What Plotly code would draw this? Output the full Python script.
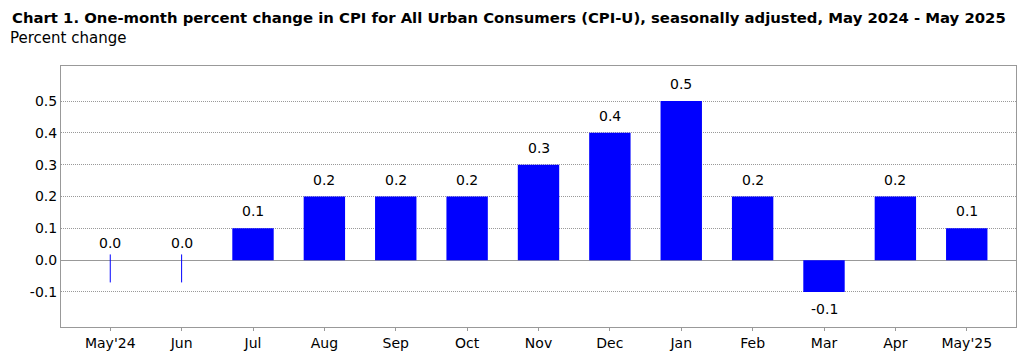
import plotly.graph_objects as go

months = ["May'24", "Jun", "Jul", "Aug", "Sep", "Oct", "Nov", "Dec", "Jan", "Feb", "Mar", "Apr", "May'25"]
values = [0.0, 0.0, 0.1, 0.2, 0.2, 0.2, 0.3, 0.4, 0.5, 0.2, -0.1, 0.2, 0.1]
y_ticks = [-0.1, 0.0, 0.1, 0.2, 0.3, 0.4, 0.5]

title = "Chart 1. One-month percent change in CPI for All Urban Consumers (CPI-U), seasonally adjusted, May 2024 - May 2025"
subtitle = "Percent change"

FONT = "DejaVu Sans"
W, H = 1009, 344
ML, MR, MT, MB = 53, 1, 58, 25

fig = go.Figure()
fig.add_trace(go.Bar(
    x=months, y=values, marker=dict(color="#0000FF", line=dict(width=0)),
    width=0.58, hoverinfo="x+y",
))
# thin marks for zero-valued months
zero_x = [m for m, v in zip(months, values) if v == 0]
fig.add_trace(go.Scatter(
    x=zero_x, y=[-0.026] * len(zero_x), mode="markers",
    marker=dict(symbol="line-ns", size=20, line=dict(color="#0000FF", width=1)),
    hoverinfo="skip", showlegend=False,
))

annotations = []
for m, v in zip(months, values):
    annotations.append(dict(
        x=m, y=v, xref="x", yref="y", text=f"{v:.1f}", showarrow=False,
        yshift=17 if v >= 0 else -17, xanchor="center", yanchor="middle",
        font=dict(family=FONT, size=14, color="#000000"),
    ))

plot_h = H - MT - MB
plot_w = W - ML - MR
def px(xp, yp):
    return (xp - ML) / plot_w, (H - MB - yp) / plot_h

sx, sy = px(0, 30)
annotations.append(dict(text=subtitle, x=sx, y=sy, xref="paper", yref="paper",
                        xanchor="left", yanchor="middle", showarrow=False,
                        font=dict(family=FONT, size=15, color="#000000")))

fig.update_layout(
    width=W, height=H,
    margin=dict(l=ML, r=MR, t=MT, b=MB),
    paper_bgcolor="white", plot_bgcolor="white",
    showlegend=False,
    font=dict(family=FONT, size=14, color="#000000"),
    title=dict(text="<b>" + title + "</b>", x=4 / W, xanchor="left", xref="container",
               y=1 - 9.5 / H, yanchor="middle", yref="container",
               font=dict(family=FONT, size=14.85, color="#000000")),
    annotations=annotations,
)

fig.update_xaxes(
    type="category", range=[-0.69, 12.69],
    showline=True, linecolor="#999999", linewidth=1, mirror=True,
    ticks="outside", ticklen=3, tickcolor="#999999",
    showgrid=False, tickfont=dict(family=FONT, size=14),
)
fig.update_yaxes(
    range=[-0.21, 0.61], tickvals=y_ticks, ticktext=[f"{t:.1f}" for t in y_ticks],
    showline=True, linecolor="#999999", linewidth=1, mirror=True,
    showgrid=True, gridcolor="#999999", gridwidth=1, griddash="1px,1px",
    zeroline=True, zerolinecolor="#999999", zerolinewidth=1,
    ticks="", tickfont=dict(family=FONT, size=14),
)

fig.write_html("out.html")
